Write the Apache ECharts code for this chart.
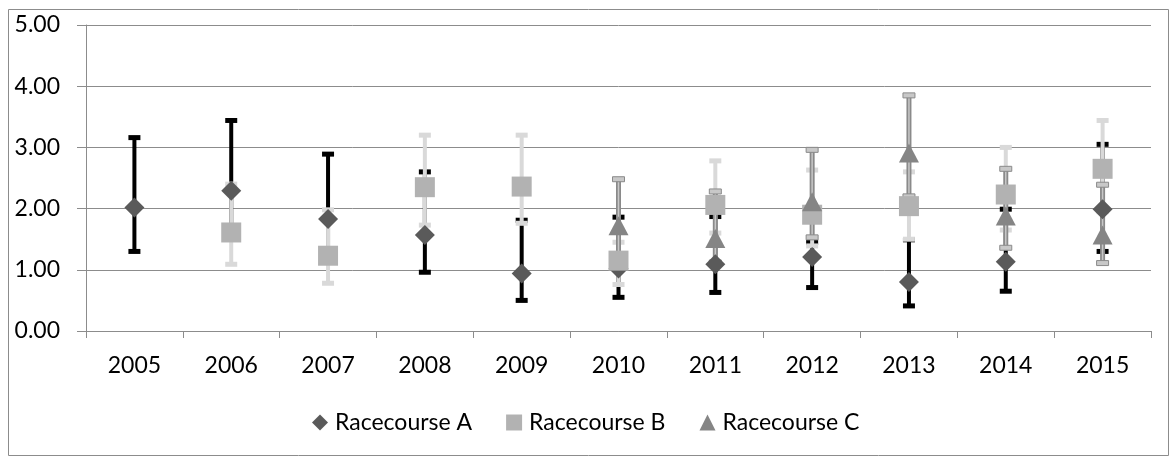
<!DOCTYPE html>
<html><head><meta charset="utf-8">
<script src="https://cdn.jsdelivr.net/npm/echarts@6/dist/echarts.min.js"></script>
<style>html,body{margin:0;padding:0;background:#fff}#c{width:1175px;height:457px}</style>
</head><body><div id="c"></div>
<script>
const years = ['2005','2006','2007','2008','2009','2010','2011','2012','2013','2014','2015'];
const yTicks = [0,1,2,3,4,5];
// Racecourse A
const aVal  = [2.02,2.29,1.83,1.57,0.94,1.02,1.09,1.21,0.80,1.13,1.99];
const aLow  = [1.30,1.65,1.25,0.96,0.50,0.55,0.63,0.71,0.41,0.65,1.30];
const aHigh = [3.16,3.44,2.89,2.60,1.81,1.86,1.87,1.45,1.49,1.99,3.05];
// Racecourse B
const bVal  = [null,1.61,1.23,2.35,2.36,1.15,2.06,1.90,2.04,2.23,2.65];
const bLow  = [null,1.09,0.78,1.73,1.76,0.76,1.60,1.39,1.50,1.65,1.95];
const bHigh = [null,2.40,1.98,3.20,3.20,1.45,2.78,2.63,2.60,3.00,3.44];
// Racecourse C
const cVal  = [null,null,null,null,null,1.72,1.51,2.11,2.91,1.88,1.57];
const cLow  = [null,null,null,null,null,1.20,1.12,1.53,2.20,1.36,1.11];
const cHigh = [null,null,null,null,null,2.48,2.28,2.96,3.85,2.65,2.39];

const FONT = 'Lato';
function errData(low, high){
  const out=[];
  for(let i=0;i<years.length;i++){ if(low[i]!=null) out.push([i,low[i],high[i]]); }
  return out;
}
function errSeries(low, high, style){
  return {
    type:'custom', silent:true, z: style.z,
    data: errData(low, high),
    encode:{x:0,y:[1,2]},
    renderItem:function(params, api){
      const x = api.coord([api.value(0), api.value(1)])[0];
      const yl = api.coord([api.value(0), api.value(1)])[1];
      const yh = api.coord([api.value(0), api.value(2)])[1];
      const cw = 6;
      const ch = [];
      ch.push({type:'line', shape:{x1:x,y1:yl,x2:x,y2:yh}, style:{stroke:style.color, lineWidth:style.w}});
      if(style.inner) ch.push({type:'line', shape:{x1:x,y1:yl,x2:x,y2:yh}, style:{stroke:style.inner, lineWidth:1.5}});
      [yl,yh].forEach(function(yy){
        ch.push({type:'rect', shape:{x:x-cw,y:yy-2.5,width:cw*2,height:5}, style:{fill:style.inner||style.color, stroke:style.inner?style.color:null, lineWidth:1}});
      });
      return {type:'group', children:ch};
    }
  };
}
function mk(vals){ return vals.map(function(v,i){ return v==null?null:[i,v]; }).filter(Boolean); }

const chart = echarts.init(document.getElementById('c'), null, {renderer:'canvas'});
chart.setOption({
  animation:false,
  textStyle:{fontFamily:FONT},
  graphic:[{type:'rect', shape:{x:8.5,y:9.5,width:1160,height:446}, style:{fill:'none', stroke:'#8c8c8c', lineWidth:1}, silent:true}],
  grid:{left:86, right:24, top:25, bottom:126},
  legend:{
    data:['Racecourse A','Racecourse B','Racecourse C'],
    left:312, top:411, itemWidth:16, itemHeight:16, itemGap:34, padding:0,
    textStyle:{fontFamily:FONT, fontSize:23, color:'#000', width:143, padding:[0,0,0,2]}
  },
  xAxis:{
    type:'category', data:years, boundaryGap:true,
    axisLine:{lineStyle:{color:'#8c8c8c', width:1}},
    axisTick:{show:true, length:7, lineStyle:{color:'#8c8c8c'}},
    axisLabel:{color:'#000', fontSize:23, fontFamily:FONT, margin:23}
  },
  yAxis:{
    type:'value', min:0, max:5, interval:1,
    axisLine:{show:true, lineStyle:{color:'#8c8c8c', width:1}},
    axisTick:{show:true, length:9, lineStyle:{color:'#8c8c8c'}},
    splitLine:{lineStyle:{color:'#8c8c8c', width:1}},
    axisLabel:{color:'#000', fontSize:23, fontFamily:FONT, margin:26, formatter:function(v){return v.toFixed(2);}}
  },
  series:[
    errSeries(aLow,aHigh,{color:'#000000', w:4, z:2}),
    errSeries(bLow,bHigh,{color:'#d9d9d9', w:4, z:3}),
    errSeries(cLow,cHigh,{color:'#8a8a8a', w:5, inner:'#c8c8c8', z:4}),
    {name:'Racecourse A', type:'scatter', data:mk(aVal), symbol:'diamond', symbolSize:[20,20], itemStyle:{color:'#5a5a5a', opacity:1}, z:5},
    {name:'Racecourse B', type:'scatter', data:mk(bVal), symbol:'rect', symbolSize:[20,20], itemStyle:{color:'#b2b2b2', opacity:1}, z:6},
    {name:'Racecourse C', type:'scatter', data:mk(cVal), symbol:'triangle', symbolSize:[20,19], itemStyle:{color:'#858585', opacity:1}, z:7}
  ]
});
</script></body></html>
